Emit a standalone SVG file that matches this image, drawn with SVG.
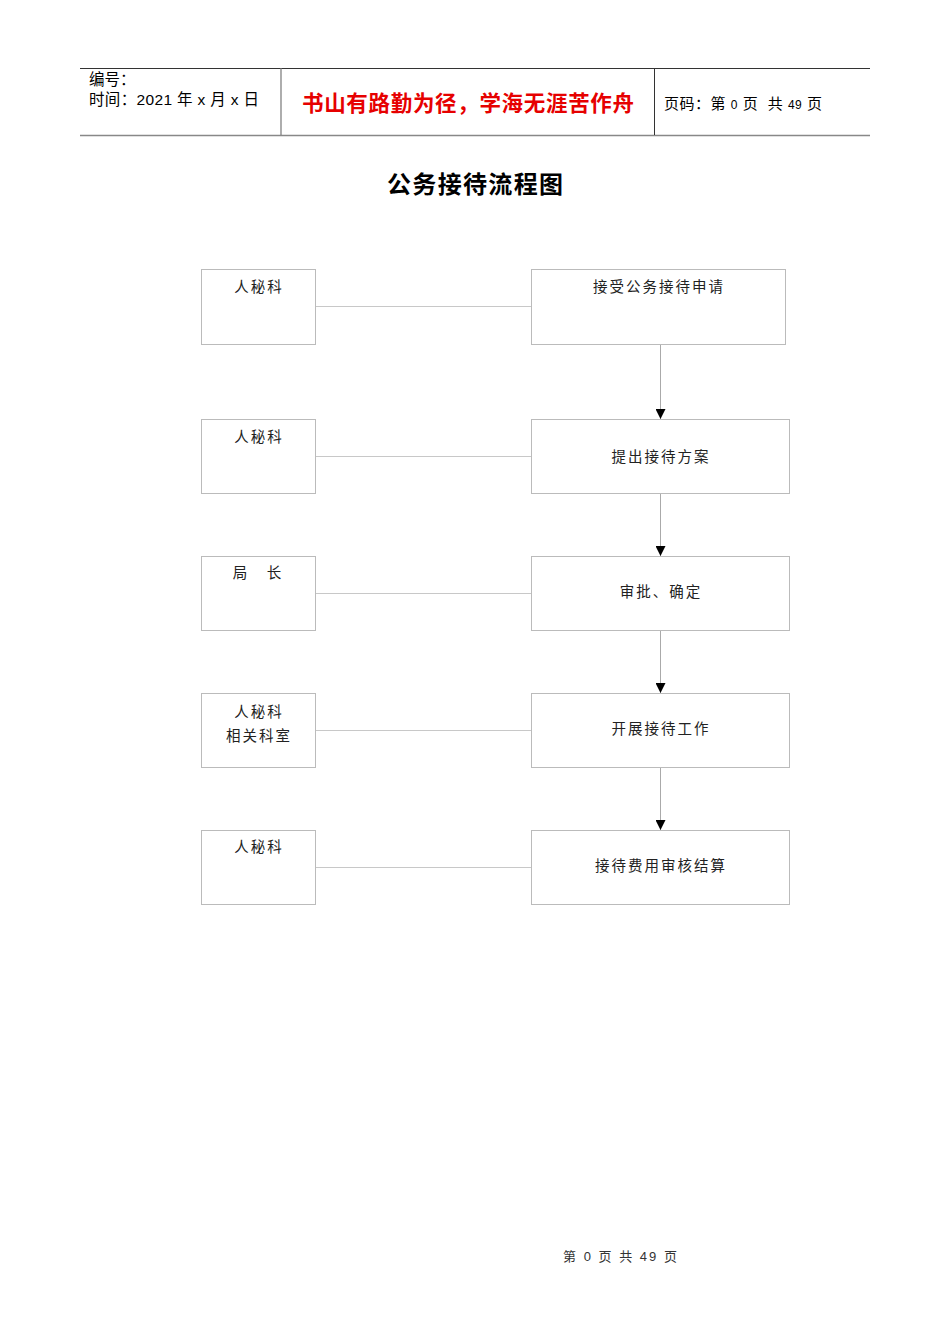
<svg xmlns="http://www.w3.org/2000/svg" width="950" height="1344" viewBox="0 0 950 1344">
<style>
.t{font-family:"Liberation Sans","Noto Sans CJK SC",sans-serif;fill:#000}
.b{font-family:"Noto Sans CJK SC",sans-serif;font-size:14.5px;fill:#222;letter-spacing:2px;text-anchor:middle}
.box{fill:#fff;stroke:#bbb;stroke-width:1}
.ln{stroke:#c8c8c8;stroke-width:1;fill:none}
.ar{stroke:#aaa;stroke-width:1;fill:none;marker-end:url(#ah)}
</style>
<defs>
<marker id="ah" viewBox="0 0 10 10" refX="10" refY="5" markerWidth="10" markerHeight="10" markerUnits="userSpaceOnUse" orient="auto">
<path d="M0,0 L10,5 L0,10 z" fill="#000"/>
</marker>
</defs>
<rect width="950" height="1344" fill="#fff"/>
<g id="header">
<line x1="80" y1="68.5" x2="870" y2="68.5" stroke="#333" stroke-width="1"/>
<line x1="80" y1="135.5" x2="870" y2="135.5" stroke="#888" stroke-width="1.5"/>
<line x1="281" y1="68" x2="281" y2="135" stroke="#777" stroke-width="1.2"/>
<line x1="654.5" y1="68" x2="654.5" y2="135" stroke="#333" stroke-width="1"/>
<text class="t" x="89" y="85" font-size="15.5">编号：</text>
<text class="t" x="89" y="105" font-size="15.5" textLength="170" lengthAdjust="spacing" xml:space="preserve">时间：2021 年 x 月 x 日</text>
<text x="302" y="111" font-family="Noto Sans CJK SC,sans-serif" font-size="21.5" font-weight="bold" fill="#e60000" textLength="332" lengthAdjust="spacing">书山有路勤为径，学海无涯苦作舟</text>
<text class="t" x="664" y="109" font-size="15" textLength="158" lengthAdjust="spacing" xml:space="preserve">页码：第 <tspan font-size="12">0</tspan> 页  共 <tspan font-size="12">49</tspan> 页</text>
</g>
<text x="387" y="193" font-family="Noto Sans CJK SC,sans-serif" font-size="24" font-weight="bold" fill="#000" textLength="176" lengthAdjust="spacing">公务接待流程图</text>
<g id="connectors">
<line class="ln" x1="315" y1="306.5" x2="531" y2="306.5"/>
<line class="ln" x1="315" y1="456.5" x2="531" y2="456.5"/>
<line class="ln" x1="315" y1="593.5" x2="531" y2="593.5"/>
<line class="ln" x1="315" y1="730.5" x2="531" y2="730.5"/>
<line class="ln" x1="315" y1="867.5" x2="531" y2="867.5"/>
<line class="ar" x1="660.5" y1="344" x2="660.5" y2="419"/>
<line class="ar" x1="660.5" y1="493" x2="660.5" y2="556"/>
<line class="ar" x1="660.5" y1="630" x2="660.5" y2="693"/>
<line class="ar" x1="660.5" y1="767" x2="660.5" y2="830"/>
</g>
<g id="l1"><rect class="box" x="201.5" y="269.5" width="114" height="75"/><text class="b" x="259" y="292">人秘科</text></g>
<g id="l2"><rect class="box" x="201.5" y="419.5" width="114" height="74"/><text class="b" x="259" y="442">人秘科</text></g>
<g id="l3"><rect class="box" x="201.5" y="556.5" width="114" height="74"/><text class="b" x="241" y="578">局</text><text class="b" x="275" y="578">长</text></g>
<g id="l4"><rect class="box" x="201.5" y="693.5" width="114" height="74"/><text class="b" x="259" y="717">人秘科</text><text class="b" x="259" y="741">相关科室</text></g>
<g id="l5"><rect class="box" x="201.5" y="830.5" width="114" height="74"/><text class="b" x="259" y="852">人秘科</text></g>
<g id="r1"><rect class="box" x="531.5" y="269.5" width="254" height="75"/><text class="b" x="659" y="292">接受公务接待申请</text></g>
<g id="r2"><rect class="box" x="531.5" y="419.5" width="258" height="74"/><text class="b" x="661" y="462">提出接待方案</text></g>
<g id="r3"><rect class="box" x="531.5" y="556.5" width="258" height="74"/><text class="b" x="661" y="597">审批、确定</text></g>
<g id="r4"><rect class="box" x="531.5" y="693.5" width="258" height="74"/><text class="b" x="661" y="734">开展接待工作</text></g>
<g id="r5"><rect class="box" x="531.5" y="830.5" width="258" height="74"/><text class="b" x="661" y="871">接待费用审核结算</text></g>
<text x="563" y="1261" font-family="Liberation Sans,Noto Sans CJK SC,sans-serif" font-size="13" fill="#333" textLength="114" lengthAdjust="spacing" xml:space="preserve">第 0 页 共 49 页</text>
</svg>
